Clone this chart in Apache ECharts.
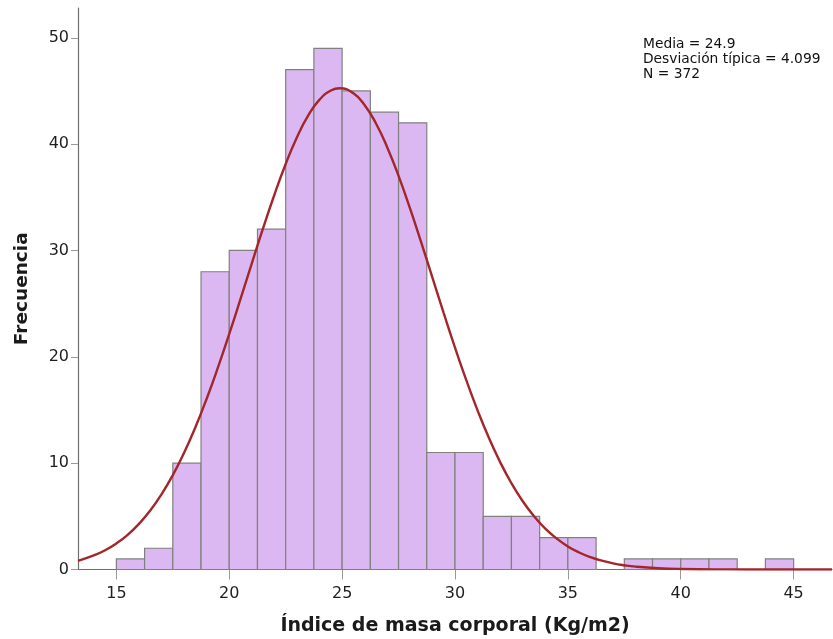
<!DOCTYPE html>
<html>
<head>
<meta charset="utf-8">
<script src="https://cdn.jsdelivr.net/npm/echarts@6/dist/echarts.min.js"></script>
<style>
  html, body { margin: 0; padding: 0; background: #fff; }
  #chart { width: 833px; height: 639px; }
</style>
</head>
<body>
<div id="chart"></div>
<script>
// histogram bins (lower / upper edge) and counts
const binLo = [15, 16.25, 17.5, 18.75, 20, 21.25, 22.5, 23.75, 25, 26.25, 27.5, 28.75,
  30, 31.25, 32.5, 33.75, 35, 36.25, 37.5, 38.75, 40, 41.25, 42.5, 43.75];
const binHi = [16.25, 17.5, 18.75, 20, 21.25, 22.5, 23.75, 25, 26.25, 27.5, 28.75, 30,
  31.25, 32.5, 33.75, 35, 36.25, 37.5, 38.75, 40, 41.25, 42.5, 43.75, 45];
const counts = [1, 2, 10, 28, 30, 32, 47, 49, 45, 43, 42, 11,
  11, 5, 5, 3, 3, 0, 1, 1, 1, 1, 0, 1];

// normal curve
const curveX = [13.3, 13.5, 14, 14.5, 15, 15.5, 16, 16.5, 17, 17.5, 18, 18.5, 19, 19.5,
  20, 20.5, 21, 21.5, 22, 22.5, 23, 23.5, 24, 24.5, 24.9, 25.5, 26, 26.5, 27, 27.5,
  28, 28.5, 29, 29.5, 30, 30.5, 31, 31.5, 32, 32.5, 33, 33.5, 34, 34.5, 35, 35.5,
  36, 36.5, 37, 37.5, 38, 39, 40, 42, 44, 46.7];
const curveY = [0.81, 0.95, 1.32, 1.81, 2.45, 3.26, 4.29, 5.54, 7.07, 8.87, 10.98, 13.38,
  16.06, 19.0, 22.15, 25.44, 28.79, 32.09, 35.24, 38.13, 40.65, 42.7, 44.18, 45.04,
  45.26, 44.78, 43.66, 41.94, 39.69, 37.01, 34.0, 30.78, 27.45, 24.11, 20.87, 17.8,
  14.96, 12.38, 10.1, 8.11, 6.42, 5.01, 3.85, 2.92, 2.17, 1.6, 1.16, 0.83, 0.58, 0.4,
  0.27, 0.12, 0.05, 0.01, 0, 0];

const xTicks = [15, 20, 25, 30, 35, 40, 45];
const yTicks = [0, 10, 20, 30, 40, 50];

const statsLines = ['Media = 24.9', 'Desviación típica = 4.099', 'N = 372'];

const font = '"DejaVu Sans", Verdana, sans-serif';

let chart = echarts.init(document.getElementById('chart'));

let bars = binLo.map((lo, i) => [lo, binHi[i], counts[i]]).filter(d => d[2] > 0);
let curve = curveX.map((x, i) => [x, curveY[i]]);

let option = {
  animation: false,
  grid: { left: 78, right: 1, top: 8, bottom: 69.5, containLabel: false, outerBoundsMode: 'none' },
  xAxis: {
    type: 'value',
    min: 13.3,
    max: 46.7,
    name: 'Índice de masa corporal (Kg/m2)',
    nameLocation: 'middle',
    nameGap: 47,
    nameTextStyle: { fontFamily: font, fontSize: 19, fontWeight: 'bold', color: '#1a1a1a' },
    axisLine: { show: true, lineStyle: { color: '#6e6e6e', width: 1.2 } },
    axisTick: { show: true, length: 10, customValues: xTicks, lineStyle: { color: '#9a9a9a' } },
    axisLabel: { customValues: xTicks, fontFamily: font, fontSize: 16, color: '#1e1e1e', margin: 16 },
    splitLine: { show: false }
  },
  yAxis: {
    type: 'value',
    min: 0,
    max: 52.8,
    name: 'Frecuencia',
    nameLocation: 'middle',
    nameGap: 46,
    nameTextStyle: { fontFamily: font, fontSize: 18.5, fontWeight: 'bold', color: '#1a1a1a' },
    axisLine: { show: true, lineStyle: { color: '#6e6e6e', width: 1.2 } },
    axisTick: { show: true, length: 7, customValues: yTicks, lineStyle: { color: '#9a9a9a' } },
    axisLabel: { customValues: yTicks, fontFamily: font, fontSize: 16, color: '#1e1e1e', margin: 9 },
    splitLine: { show: false }
  },
  graphic: [{
    type: 'text',
    left: 643,
    top: 37,
    style: {
      text: statsLines.join('\n'),
      font: '13.8px ' + font,
      fill: '#111',
      lineHeight: 15
    }
  }],
  series: [
    {
      type: 'custom',
      data: bars,
      encode: { x: [0, 1], y: 2 },
      renderItem: function (params, api) {
        let p0 = api.coord([api.value(0), api.value(2)]);
        let p1 = api.coord([api.value(1), 0]);
        return {
          type: 'rect',
          shape: { x: p0[0], y: p0[1], width: p1[0] - p0[0], height: p1[1] - p0[1] },
          style: { fill: '#dcb8f2', stroke: '#808080', lineWidth: 1.2 }
        };
      },
      z: 2
    },
    {
      type: 'line',
      data: curve,
      smooth: true,
      showSymbol: false,
      lineStyle: { color: '#a3262b', width: 2.4 },
      z: 3
    }
  ]
};

chart.setOption(option);
</script>
</body>
</html>
